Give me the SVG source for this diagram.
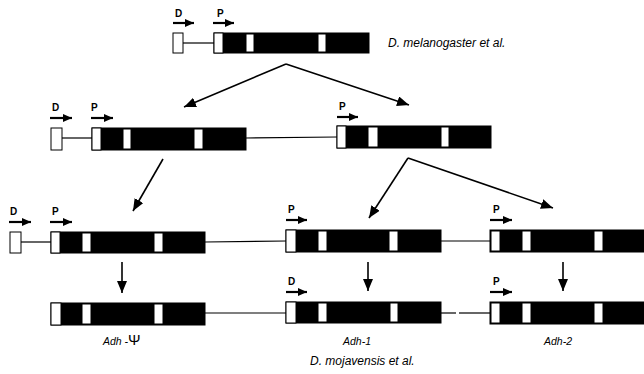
<svg xmlns="http://www.w3.org/2000/svg" width="644" height="374" viewBox="0 0 644 374">
<style>
.ex{fill:#000;stroke:#000;stroke-width:1}
.w{fill:#fff;stroke:#000;stroke-width:1}
.ln{stroke:#000;stroke-width:1.2;fill:none}
.pa{stroke:#000;stroke-width:2.2;fill:none}
.lb{font-family:"Liberation Sans",Arial,sans-serif;font-size:10px;font-weight:bold;fill:#000}
.it{font-family:"Liberation Sans",Arial,sans-serif;font-size:10.5px;font-style:italic;fill:#000}
.sp{font-size:12px}
.cn{stroke:#000;stroke-width:1.6;fill:none}
</style>
<defs>
<marker id="ah" markerUnits="userSpaceOnUse" markerWidth="13" markerHeight="11" refX="12" refY="5" orient="auto">
<path d="M0,0 L12,5 L0,10 z" fill="#000"/>
</marker>
<marker id="pm" markerUnits="userSpaceOnUse" markerWidth="10" markerHeight="10" refX="9" refY="4" orient="auto">
<path d="M0,0 L9,4 L0,8 z" fill="#000"/>
</marker>
</defs>

<g id="gene-melanogaster">
<text class="lb" x="175" y="17">D</text>
<line class="pa" x1="173" y1="23" x2="194" y2="23" marker-end="url(#pm)"/>
<text class="lb" x="217" y="17">P</text>
<line class="pa" x1="213" y1="23" x2="234" y2="23" marker-end="url(#pm)"/>
<rect class="w" x="173" y="33" width="10" height="20"/>
<line class="ln" x1="183" y1="43" x2="214" y2="43"/>
<rect class="ex" x="214" y="33" width="155" height="20"/>
<rect class="w" x="214" y="33" width="9" height="20"/>
<rect class="w" x="246" y="34" width="8" height="18"/>
<rect class="w" x="318" y="34" width="8" height="18"/>
<text class="it sp" x="388" y="47">D. melanogaster et al.</text>
</g>

<g id="gene-row2-left">
<text class="lb" x="52" y="111">D</text>
<line class="pa" x1="50" y1="118" x2="72" y2="118" marker-end="url(#pm)"/>
<text class="lb" x="91" y="111">P</text>
<line class="pa" x1="91" y1="118" x2="113" y2="118" marker-end="url(#pm)"/>
<rect class="w" x="51" y="128" width="11" height="22"/>
<line class="ln" x1="62" y1="138" x2="92" y2="138"/>
<rect class="ex" x="92" y="128" width="154" height="22"/>
<rect class="w" x="92" y="128" width="9" height="22"/>
<rect class="w" x="123" y="129" width="8" height="20"/>
<rect class="w" x="194" y="129" width="9" height="20"/>
<line class="ln" x1="246" y1="138" x2="337" y2="137"/>
</g>

<g id="gene-row2-right">
<text class="lb" x="339" y="110">P</text>
<line class="pa" x1="337" y1="117" x2="358" y2="117" marker-end="url(#pm)"/>
<rect class="ex" x="337" y="126" width="154" height="22"/>
<rect class="w" x="337" y="126" width="9" height="22"/>
<rect class="w" x="368" y="127" width="10" height="20"/>
<rect class="w" x="441" y="127" width="8" height="20"/>
</g>

<g id="gene-row3-psi">
<text class="lb" x="10" y="215">D</text>
<line class="pa" x1="9" y1="222" x2="31" y2="222" marker-end="url(#pm)"/>
<text class="lb" x="52" y="215">P</text>
<line class="pa" x1="50" y1="222" x2="72" y2="222" marker-end="url(#pm)"/>
<rect class="w" x="10" y="232" width="11" height="21"/>
<line class="ln" x1="21" y1="242" x2="51" y2="242"/>
<rect class="ex" x="51" y="232" width="154" height="21"/>
<rect class="w" x="51" y="232" width="9" height="21"/>
<rect class="w" x="82" y="233" width="9" height="19"/>
<rect class="w" x="154" y="233" width="9" height="19"/>
<line class="ln" x1="205" y1="242" x2="286" y2="241"/>
</g>

<g id="gene-row3-adh1">
<text class="lb" x="288" y="213">P</text>
<line class="pa" x1="286" y1="220" x2="307" y2="220" marker-end="url(#pm)"/>
<rect class="ex" x="286" y="230" width="155" height="22"/>
<rect class="w" x="286" y="230" width="10" height="22"/>
<rect class="w" x="318" y="231" width="9" height="20"/>
<rect class="w" x="389" y="231" width="9" height="20"/>
<line class="ln" x1="441" y1="241" x2="490" y2="241"/>
</g>

<g id="gene-row3-adh2">
<text class="lb" x="493" y="213">P</text>
<line class="pa" x1="490" y1="220" x2="512" y2="220" marker-end="url(#pm)"/>
<rect class="ex" x="490" y="230" width="156" height="22"/>
<rect class="w" x="491" y="231" width="9" height="20"/>
<rect class="w" x="522" y="231" width="9" height="20"/>
<rect class="w" x="594" y="231" width="9" height="20"/>
</g>

<g id="gene-row4-psi">
<rect class="ex" x="51" y="303" width="154" height="22"/>
<rect class="w" x="51" y="303" width="10" height="22"/>
<rect class="w" x="82" y="304" width="9" height="20"/>
<rect class="w" x="154" y="304" width="9" height="20"/>
<line class="ln" x1="205" y1="313" x2="286" y2="313"/>
<text class="it" x="103" y="345">Adh -<tspan font-style="normal" font-size="15">Ψ</tspan></text>
</g>

<g id="gene-row4-adh1">
<text class="lb" x="288" y="285">D</text>
<line class="pa" x1="286" y1="292" x2="307" y2="292" marker-end="url(#pm)"/>
<rect class="ex" x="286" y="302" width="155" height="21"/>
<rect class="w" x="286" y="302" width="10" height="21"/>
<rect class="w" x="318" y="303" width="9" height="19"/>
<rect class="w" x="390" y="303" width="8" height="19"/>
<line class="ln" x1="441" y1="313" x2="456" y2="313"/>
<line class="ln" x1="459" y1="313" x2="490" y2="313"/>
<text class="it" x="357" y="345" text-anchor="middle">Adh-1</text>
</g>

<g id="gene-row4-adh2">
<text class="lb" x="493" y="285">P</text>
<line class="pa" x1="490" y1="292" x2="512" y2="292" marker-end="url(#pm)"/>
<rect class="ex" x="490" y="302" width="156" height="22"/>
<rect class="w" x="491" y="303" width="9" height="20"/>
<rect class="w" x="522" y="303" width="9" height="20"/>
<rect class="w" x="594" y="303" width="9" height="20"/>
<text class="it" x="558" y="345" text-anchor="middle">Adh-2</text>
</g>

<text class="it sp" x="310" y="365">D. mojavensis et al.</text>

<g id="connectors">
<line class="cn" x1="286" y1="64" x2="184" y2="107" marker-end="url(#ah)"/>
<line class="cn" x1="286" y1="64" x2="409" y2="105" marker-end="url(#ah)"/>
<line class="cn" x1="163" y1="159" x2="133" y2="211" marker-end="url(#ah)"/>
<line class="cn" x1="408" y1="158" x2="369" y2="218" marker-end="url(#ah)"/>
<line class="cn" x1="408" y1="158" x2="553" y2="208" marker-end="url(#ah)"/>
<line class="cn" x1="122" y1="262" x2="122" y2="293" marker-end="url(#ah)"/>
<line class="cn" x1="368" y1="262" x2="368" y2="291" marker-end="url(#ah)"/>
<line class="cn" x1="563" y1="262" x2="563" y2="291" marker-end="url(#ah)"/>
</g>
</svg>
